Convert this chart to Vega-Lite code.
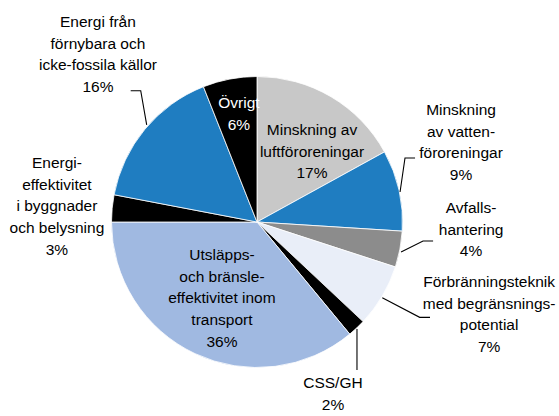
{
  "$schema": "https://vega.github.io/schema/vega-lite/v6.json",
  "autosize": {"type": "none"},
  "width": 514,
  "height": 388,
  "padding": {"left": 0, "top": 28, "right": 45, "bottom": 0},
  "background": "white",
  "config": {"view": {"stroke": null}},
  "datasets": {
    "slices": [
      {"order": 1, "name": "Minskning av luftföroreningar", "value": 17},
      {"order": 2, "name": "Minskning av vattenföroreningar", "value": 9},
      {"order": 3, "name": "Avfallshantering", "value": 4},
      {"order": 4, "name": "Förbränningsteknik med begränsningspotential", "value": 7},
      {"order": 5, "name": "CSS/GH", "value": 2},
      {"order": 6, "name": "Utsläpps- och bränsleeffektivitet inom transport", "value": 36},
      {"order": 7, "name": "Energieffektivitet i byggnader och belysning", "value": 3},
      {"order": 8, "name": "Energi från förnybara och icke-fossila källor", "value": 16},
      {"order": 9, "name": "Övrigt", "value": 6}
    ],
    "labels": [
      {"name": "Energi från förnybara och icke-fossila källor", "label": "Energi från\nförnybara och\nicke-fossila källor\n16%", "lx": -109.3, "ly": 134.0},
      {"name": "Övrigt", "label": "Övrigt\n6%", "lx": -12.4, "ly": 78.4},
      {"name": "Minskning av luftföroreningar", "label": "Minskning av\nluftföroreningar\n17%", "lx": 37.8, "ly": 59.8},
      {"name": "Minskning av vattenföroreningar", "label": "Minskning\nav vatten-\nföroreningar\n9%", "lx": 140.2, "ly": 73.5},
      {"name": "Avfallshantering", "label": "Avfalls-\nhantering\n4%", "lx": 147.1, "ly": 6.2},
      {"name": "Förbränningsteknik med begränsningspotential", "label": "Förbränningsteknik\nmed begränsnings-\npotential\n7%", "lx": 159.5, "ly": -44.7},
      {"name": "CSS/GH", "label": "CSS/GH\n2%", "lx": 52.2, "ly": -114.1},
      {"name": "Energieffektivitet i byggnader och belysning", "label": "Energi-\neffektivitet\ni byggnader\noch belysning\n3%", "lx": -137.5, "ly": 37.1},
      {"name": "Utsläpps- och bränsleeffektivitet inom transport", "label": "Utsläpps-\noch bränsle-\neffektivitet inom\ntransport\n36%", "lx": -24.1, "ly": -26.1}
    ],
    "leaders": [
      {"id": "A", "seq": 1, "lx": -86.8, "ly": 90.2},
      {"id": "A", "seq": 2, "lx": -79.9, "ly": 90.2},
      {"id": "A", "seq": 3, "lx": -75.8, "ly": 66.7},
      {"id": "B", "seq": 1, "lx": 108.6, "ly": 44.0},
      {"id": "B", "seq": 2, "lx": 101.7, "ly": 44.0},
      {"id": "B", "seq": 3, "lx": 98.3, "ly": 20.6},
      {"id": "C", "seq": 1, "lx": 121.0, "ly": -13.1},
      {"id": "C", "seq": 2, "lx": 114.1, "ly": -13.1},
      {"id": "C", "seq": 3, "lx": 99.0, "ly": -20.6},
      {"id": "D", "seq": 1, "lx": 118.9, "ly": -65.5},
      {"id": "D", "seq": 2, "lx": 111.8, "ly": -65.5},
      {"id": "D", "seq": 3, "lx": 86.1, "ly": -52.0},
      {"id": "E", "seq": 1, "lx": 68.7, "ly": -73.5},
      {"id": "E", "seq": 2, "lx": 68.7, "ly": -101.7}
    ]
  },
  "layer": [
    {
      "data": {"name": "slices"},
      "mark": {"type": "arc", "outerRadius": 145.5, "stroke": "white", "strokeWidth": 0.8},
      "encoding": {
        "theta": {"field": "value", "type": "quantitative", "stack": true},
        "order": {"field": "order", "type": "quantitative", "sort": "ascending"},
        "color": {
          "field": "name",
          "type": "nominal",
          "legend": null,
          "scale": {
            "domain": [
              "Minskning av luftföroreningar",
              "Minskning av vattenföroreningar",
              "Avfallshantering",
              "Förbränningsteknik med begränsningspotential",
              "CSS/GH",
              "Utsläpps- och bränsleeffektivitet inom transport",
              "Energieffektivitet i byggnader och belysning",
              "Energi från förnybara och icke-fossila källor",
              "Övrigt"
            ],
            "range": ["#c8c8c8", "#1f7dc1", "#8c8c8c", "#e9eef8", "#000000", "#a0b9e1", "#000000", "#1f7dc1", "#000000"]
          }
        }
      }
    },
    {
      "data": {"name": "leaders"},
      "mark": {"type": "line", "color": "black", "strokeWidth": 1.1},
      "encoding": {
        "x": {"field": "lx", "type": "quantitative", "axis": null, "scale": {"domain": [-176.6, 176.6], "nice": false, "zero": false}},
        "y": {"field": "ly", "type": "quantitative", "axis": null, "scale": {"domain": [-133.3, 133.3], "nice": false, "zero": false}},
        "detail": {"field": "id", "type": "nominal"},
        "order": {"field": "seq", "type": "quantitative"}
      }
    },
    {
      "data": {"name": "labels"},
      "mark": {"type": "text", "align": "center", "baseline": "alphabetic", "lineBreak": "\n", "lineHeight": 21.7, "fontSize": 15.5, "font": "Liberation Sans, Arial, sans-serif"},
      "encoding": {
        "x": {"field": "lx", "type": "quantitative", "axis": null, "scale": {"domain": [-176.6, 176.6], "nice": false, "zero": false}},
        "y": {"field": "ly", "type": "quantitative", "axis": null, "scale": {"domain": [-133.3, 133.3], "nice": false, "zero": false}},
        "text": {"field": "label", "type": "nominal"},
        "color": {"condition": {"test": "datum.name === 'Övrigt'", "value": "white"}, "value": "black"}
      }
    }
  ]
}
